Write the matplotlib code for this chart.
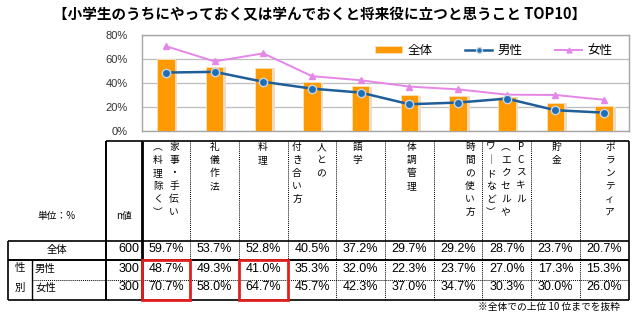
import matplotlib
matplotlib.use("Agg")
import matplotlib.pyplot as plt

plt.rcParams['font.family'] = ['Noto Sans CJK JP', 'DejaVu Sans']

# top 10 answers, columns of the vertical headings are listed right to left
headings = [
    ["家事・手伝い", "︵料理除く︶"],
    ["礼儀作法"],
    ["料理"],
    ["人との", "付き合い方"],
    ["語学"],
    ["体調管理"],
    ["時間の使い方"],
    ["PCスキル", "︵エクセルや", "ワ｜ドなど︶"],
    ["貯金"],
    ["ボランティア"],
]
overall = [59.7, 53.7, 52.8, 40.5, 37.2, 29.7, 29.2, 28.7, 23.7, 20.7]
male = [48.7, 49.3, 41.0, 35.3, 32.0, 22.3, 23.7, 27.0, 17.3, 15.3]
female = [70.7, 58.0, 64.7, 45.7, 42.3, 37.0, 34.7, 30.3, 30.0, 26.0]
n_values = [600, 300, 300]
row_names = ["全体", "男性", "女性"]
highlight = [0, 2]
yticks = [0, 20, 40, 60, 80]

W, H = 640, 328
fig = plt.figure(figsize=(W / 100, H / 100), dpi=100)

# ---- chart ----
left, right, top, bottom = 141.6, 628.5, 35, 131
ax = fig.add_axes([left / W, 1 - bottom / H, (right - left) / W, (bottom - top) / H])
x = list(range(len(overall)))
ax.bar([i + 0.05 for i in x], [v - 0.4 for v in overall], width=0.37,
       color="#e9dccb", zorder=2)
bars = ax.bar(x, overall, width=0.36, color="#ff9900", edgecolor="#fbe3bd",
              linewidth=0.6, zorder=3, label="全体")
l_male, = ax.plot(x, male, color="#1f5e98", lw=1.8, marker="o", ms=6,
                  mfc="#1f6fb8", mec="#c9d6e0", mew=1.0, zorder=5, label="男性")
l_fem, = ax.plot(x, female, color="#e586e8", lw=1.4, marker="^", ms=5,
                 mfc="#e586e8", mec="#e586e8", zorder=4, label="女性")
ax.set_xlim(-0.5, len(overall) - 0.5)
ax.set_ylim(0, 80)
ax.set_yticks(yticks)
ax.set_yticklabels([f"{t}%" for t in yticks], fontsize=8, color="#333333",
                   family=['Liberation Sans', 'DejaVu Sans'])
ax.set_xticks([])
ax.tick_params(axis="y", length=0, pad=10)
ax.grid(axis="y", color="#bdbdbd", lw=0.9, zorder=0)
for s in ax.spines.values():
    s.set_color("#a6a6a6")
    s.set_linewidth(1.0)
ax.legend([bars, l_male, l_fem], ["全体", "男性", "女性"],
          loc="upper right", bbox_to_anchor=(0.99, 1.02), ncol=3, frameon=False,
          fontsize=9, handlelength=2.2, handleheight=0.5, handletextpad=0.4,
          columnspacing=2.6, markerscale=0.7)

# ---- table drawn in pixel coordinates ----
ov = fig.add_axes([0, 0, 1, 1], zorder=-1)
ov.set_xlim(0, W)
ov.set_ylim(H, 0)
ov.axis("off")

fig.text(0.5, 1 - 14 / H,
         "【小学生のうちにやっておく又は学んでおくと将来役に立つと思うこと TOP10】",
         ha="center", va="center", fontsize=10.5, fontweight="bold")

colw = (right - left) / len(overall)
centers = [left + (i + 0.5) * colw for i in x]
edges = [left + i * colw for i in range(len(overall) + 1)]
t_top, r_all, r_male, r_fem, t_bot = 141, 241, 260, 280, 300
x_tab, x_sex, x_n = 8, 32, 106
num_font = ['Liberation Sans', 'DejaVu Sans']

def hline(y, x0, x1, **kw):
    ov.plot([x0, x1], [y, y], color="black", solid_capstyle="butt", **kw)

def vline(xx, y0, y1, **kw):
    ov.plot([xx, xx], [y0, y1], color="black", solid_capstyle="butt", **kw)

hline(t_top, x_n, edges[-1], lw=1.2)
hline(r_all, x_tab, edges[-1], lw=1.2)
hline(r_male, x_tab, edges[-1], lw=1.4)
hline(r_fem, x_sex, edges[-1], lw=0.7, ls=(0, (1, 1)))
hline(t_bot, x_tab, edges[-1], lw=1.2)
vline(x_tab, r_all, t_bot, lw=1.2)
vline(x_sex, r_male, t_bot, lw=1.0)
vline(x_n, t_top, t_bot, lw=1.4)
vline(edges[0], t_top, t_bot, lw=2.0)
vline(edges[-1], t_top, t_bot, lw=1.2)
for e in edges[1:-1]:
    vline(e, t_top, t_bot, lw=0.7, ls=(0, (1, 1)))

# vertical headings, one character per row
offsets = [[8, -8], [0], [-1], [9, -15], [-3], [2], [12], [14, -1, -16], [1], [6]]
for c, lines in enumerate(headings):
    for line, dx in zip(lines, offsets[c]):
        for k, ch in enumerate(line):
            ov.text(centers[c] + dx, 147 + k * 13, ch, ha="center", va="center",
                    fontsize=7)

ov.text(57, 216, "単位：%", ha="center", va="center", fontsize=7)
ov.text(124, 216, "n値", ha="center", va="center", fontsize=7)

series = [overall, male, female]
row_y = [249.5, 268.5, 287.5]
for r, vals in enumerate(series):
    ov.text(x_n + 33, row_y[r], str(n_values[r]), ha="right", va="center",
            fontsize=9, family=num_font)
    for c, v in enumerate(vals):
        ov.text(centers[c], row_y[r], f"{v:.1f}%", ha="center", va="center",
                fontsize=9, family=num_font)

ov.text(57, row_y[0], row_names[0], ha="center", va="center", fontsize=7.5)
ov.text(35, row_y[1], row_names[1], ha="left", va="center", fontsize=7.5)
ov.text(35, row_y[2], row_names[2], ha="left", va="center", fontsize=7.5)
ov.text(20, row_y[1], "性", ha="center", va="center", fontsize=7.5)
ov.text(20, row_y[2], "別", ha="center", va="center", fontsize=7.5)

# red frames around the highlighted gender values
for c in highlight:
    ov.add_patch(plt.Rectangle((edges[c], r_male), colw, t_bot - r_male,
                               fill=False, ec="#e02020", lw=2.0, zorder=5))

ov.text(620, 307, "※全体での上位 10 位までを抜粋", ha="right", va="center",
        fontsize=7)

fig.savefig("out.png", dpi=100)
